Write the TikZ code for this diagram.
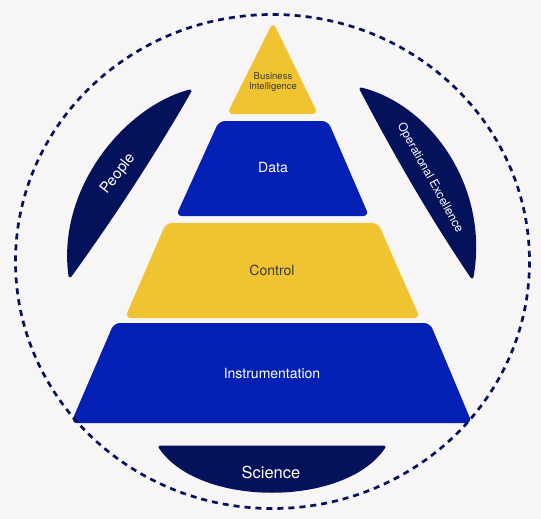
\documentclass[tikz,border=0pt]{standalone}
\usepackage{fontspec}
\setmainfont{TeX Gyre Heros}
\definecolor{navy}{HTML}{03125A}
\definecolor{royal}{HTML}{0420B4}
\definecolor{gold}{HTML}{F0C331}
\definecolor{paper}{HTML}{F7F5F6}
\definecolor{ink}{HTML}{3A3A3A}
\tikzset{
  layer/.style={rounded corners=6pt},
  band/.style={fill=navy,draw=navy,line width=3pt,line join=round},
  lbl/.style={font=\fontsize{14}{16}\selectfont,text=white,inner sep=0pt}
}
\begin{document}
\begin{tikzpicture}[x=1pt,y=-1pt]
\fill[paper] (0,0) rectangle (541,519);
\useasboundingbox (0,0) rectangle (541,519);
\fill[gold,layer] (227,114) -- (273,22) -- (318,114) -- cycle;
\fill[royal,layer] (176,216) -- (219,121) -- (328,121) -- (369,216) -- cycle;
\fill[gold,layer] (125,318) -- (166,223) -- (378,223) -- (420,318) -- cycle;
\fill[royal,layer] (71,423) -- (114,323) -- (430,323) -- (472,423) -- cycle;
\draw[band] (190,91) .. controls (125,108) and (58,190) .. (70,276) .. controls (112,218) and (154,154) .. cycle;
\draw[band] (361,89) .. controls (430,106) and (488,188) .. (472,277) .. controls (432,218) and (395,154) .. cycle;
\draw[band] (160,447) -- (384,447) .. controls (345,506) and (199,506) .. cycle;
\draw[navy,line width=2.7pt,dash pattern=on 6pt off 5pt] (272.5,261.5) ellipse[x radius=257,y radius=247];
\node[lbl,text=ink,align=center,font=\fontsize{9.5}{10.5}\selectfont] (bi) at (273,82) {Business\\Intelligence};
\node[lbl] (data) at (273,168) {Data};
\node[lbl,text=ink] (ctrl) at (272,270) {Control};
\node[lbl] (instr) at (272,373) {Instrumentation};
\node[lbl,font=\fontsize{16.5}{18}\selectfont] (sci) at (271,472) {Science};
\node[lbl,font=\fontsize{15}{17}\selectfont,rotate=52] (ppl) at (118,174) {People};
\node[lbl,font=\fontsize{12}{14}\selectfont,rotate=-61] (opex) at (430,178) {Operational Excellence};
\end{tikzpicture}
\end{document}
